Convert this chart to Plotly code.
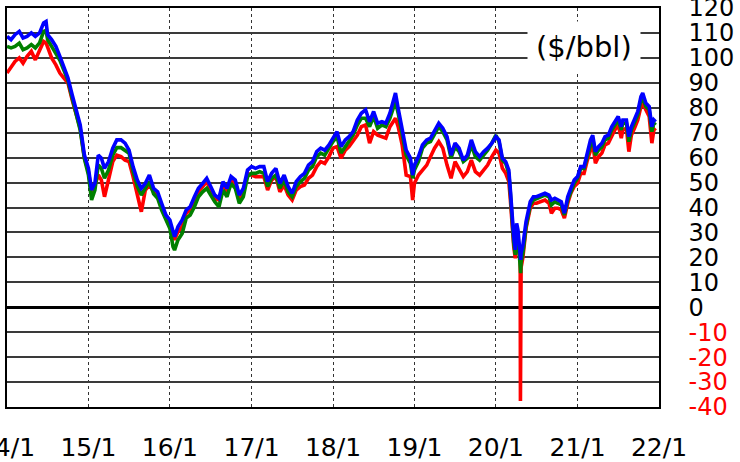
import plotly.graph_objects as go

# ---- data ----
dates = [
    "2014-01-01", "2014-01-19", "2014-02-06", "2014-02-25", "2014-03-14", "2014-04-01", "2014-04-20",
    "2014-05-08", "2014-05-27", "2014-06-14", "2014-06-25", "2014-07-02", "2014-07-20", "2014-08-08",
    "2014-08-26", "2014-09-13", "2014-10-01", "2014-10-20", "2014-11-07", "2014-11-25", "2014-12-14",
    "2015-01-01", "2015-01-15", "2015-01-30", "2015-02-14", "2015-02-28", "2015-03-14", "2015-04-01",
    "2015-04-20", "2015-05-08", "2015-05-27", "2015-06-14", "2015-07-02", "2015-07-20", "2015-08-08",
    "2015-08-26", "2015-09-13", "2015-10-01", "2015-10-20", "2015-11-07", "2015-11-25", "2015-12-14",
    "2016-01-01", "2016-01-15", "2016-01-22", "2016-02-06", "2016-02-25", "2016-03-14", "2016-04-01",
    "2016-04-20", "2016-05-08", "2016-05-27", "2016-06-14", "2016-07-02", "2016-07-20", "2016-08-08",
    "2016-08-26", "2016-09-13", "2016-10-01", "2016-10-20", "2016-11-07", "2016-11-25", "2016-12-14",
    "2017-01-01", "2017-01-19", "2017-02-06", "2017-02-25", "2017-03-14", "2017-04-01", "2017-04-20",
    "2017-05-08", "2017-05-27", "2017-06-14", "2017-07-02", "2017-07-20", "2017-08-08", "2017-08-26",
    "2017-09-13", "2017-10-01", "2017-10-20", "2017-11-07", "2017-11-25", "2017-12-14",
    "2018-01-01", "2018-01-19", "2018-02-06", "2018-02-25", "2018-03-14", "2018-04-01", "2018-04-20",
    "2018-05-08", "2018-05-27", "2018-06-14", "2018-07-02", "2018-07-20", "2018-08-08", "2018-08-26",
    "2018-09-13", "2018-10-01", "2018-10-08", "2018-10-20", "2018-11-07", "2018-11-25", "2018-12-14",
    "2018-12-24",
    "2019-01-01", "2019-01-19", "2019-02-06", "2019-02-25", "2019-03-14", "2019-04-01", "2019-04-20",
    "2019-05-08", "2019-05-27", "2019-06-14", "2019-07-02", "2019-07-20", "2019-08-08", "2019-08-26",
    "2019-09-13", "2019-10-01", "2019-10-20", "2019-11-07", "2019-11-25", "2019-12-14",
    "2020-01-01", "2020-01-15", "2020-01-30", "2020-02-14", "2020-02-28", "2020-03-06", "2020-03-14",
    "2020-03-21", "2020-03-28", "2020-04-03", "2020-04-09", "2020-04-16", "2020-04-19", "2020-04-20",
    "2020-04-21", "2020-04-23", "2020-05-01", "2020-05-15", "2020-06-03", "2020-06-17", "2020-07-01",
    "2020-07-20", "2020-08-08", "2020-08-26", "2020-09-06", "2020-09-21", "2020-10-05", "2020-10-20",
    "2020-11-03", "2020-11-18", "2020-12-02", "2020-12-17",
    "2021-01-01", "2021-01-15", "2021-01-30", "2021-02-14", "2021-02-28", "2021-03-10", "2021-03-22",
    "2021-04-05", "2021-04-20", "2021-05-04", "2021-05-19", "2021-06-03", "2021-06-17", "2021-07-02",
    "2021-07-16", "2021-07-23", "2021-08-08", "2021-08-19", "2021-08-30", "2021-09-13", "2021-09-28",
    "2021-10-12", "2021-10-20", "2021-11-03", "2021-11-18", "2021-11-30", "2021-12-09", "2021-12-17",
]

brent = [
    108.6, 107.3, 109.3, 110.6, 108.0, 108.6, 110.0, 108.6, 110.0, 114.0, 114.6, 109.3, 107.3, 104.6,
    100.6, 95.9, 92.0, 85.2, 79.2, 73.1, 61.0,
    55.7, 47.0, 49.7, 61.0, 59.8, 55.7, 58.4, 63.8, 67.1, 67.1, 65.8, 63.0, 56.4, 51.0,
    47.7, 49.7, 53.0, 47.7, 46.3, 41.7, 37.0,
    35.0, 29.6, 28.3, 32.3, 35.0, 39.0, 40.3, 44.3, 47.7, 49.7, 51.7, 48.4, 45.0, 43.7,
    50.4, 47.7, 52.4, 51.0, 45.0, 47.7, 55.0,
    56.4, 55.7, 56.4, 56.4, 50.4, 53.7, 55.7, 49.7, 53.0, 48.4, 45.7, 50.4, 52.4, 53.7,
    57.0, 58.4, 62.4, 63.8, 63.0, 65.1,
    67.8, 70.4, 64.4, 67.1, 68.4, 70.4, 75.1, 77.8, 79.2, 74.4, 78.5, 73.8, 74.4, 73.8,
    77.8, 83.2, 85.9, 79.8, 71.1, 63.0, 59.8, 53.0,
    57.0, 60.4, 65.1, 67.1, 67.8, 70.4, 73.8, 71.8, 68.4, 61.0, 65.8, 63.8, 59.0, 61.0,
    67.1, 62.4, 60.4, 62.4, 63.8, 65.8,
    68.4, 67.1, 59.8, 58.4, 55.0, 47.0, 35.0, 28.3, 23.0, 33.6, 31.0, 24.3, 22.0, 20.2,
    19.0, 21.7, 24.9, 34.3, 42.3, 44.3, 44.3, 45.0, 45.7, 45.0, 43.0, 43.7, 43.0, 42.3,
    37.7, 44.3, 47.7, 51.0,
    52.4, 56.4, 56.4, 62.4, 67.1, 69.0, 62.4, 64.4, 65.8, 68.4, 69.0, 72.4, 74.4, 76.5,
    72.4, 75.1, 75.1, 68.4, 72.4, 75.1, 78.5, 84.5, 85.9, 81.9, 80.5, 72.4, 75.1, 74.4,
]

dubai = [
    104.6, 104.0, 104.6, 105.9, 103.3, 104.0, 105.3, 104.0, 106.0, 110.6, 111.0, 107.3, 104.6, 101.9,
    99.0, 95.0, 91.0, 83.9, 78.0, 71.1, 59.5,
    53.0, 43.0, 47.0, 57.0, 55.7, 51.7, 55.0, 61.0, 64.0, 64.0, 63.0, 61.8, 54.5, 48.5,
    45.0, 47.5, 50.5, 45.5, 43.7, 39.0, 35.0,
    31.6, 24.3, 22.9, 27.0, 29.6, 35.7, 37.0, 40.3, 44.3, 46.3, 47.7, 45.0, 42.3, 40.3,
    47.0, 44.3, 49.7, 47.7, 41.7, 44.3, 52.4,
    53.7, 53.7, 54.4, 53.7, 48.4, 51.7, 53.0, 47.7, 51.0, 46.3, 44.3, 48.4, 50.4, 51.7,
    55.0, 56.4, 60.4, 61.8, 61.0, 63.8,
    66.4, 68.4, 61.8, 64.4, 66.4, 69.0, 73.1, 75.8, 75.8, 72.4, 76.5, 71.8, 73.1, 72.4,
    75.8, 80.5, 82.5, 77.8, 69.0, 61.0, 57.7, 51.7,
    55.0, 58.4, 63.8, 65.8, 66.4, 69.0, 72.4, 70.4, 67.1, 59.8, 64.4, 62.4, 58.4, 59.8,
    65.1, 60.4, 59.0, 61.0, 63.0, 65.8,
    69.0, 66.4, 59.0, 57.7, 53.7, 45.7, 33.6, 25.6, 21.0, 31.0, 28.3, 21.0, 19.5, 17.6,
    13.7, 18.2, 21.7, 32.3, 41.0, 43.0, 43.7, 44.3, 45.0, 44.3, 41.0, 42.3, 41.7, 41.0,
    37.0, 43.0, 46.3, 49.7,
    51.7, 55.7, 55.7, 61.0, 65.1, 67.8, 61.0, 63.0, 64.4, 67.1, 67.8, 71.1, 73.1, 75.1,
    71.1, 73.8, 73.8, 66.4, 71.1, 73.8, 77.1, 83.2, 83.9, 80.5, 79.2, 70.4, 73.8, 73.1,
]

wti = [
    93.9, 96.5, 98.6, 100.0, 97.9, 100.6, 102.6, 99.2, 102.6, 106.6, 106.0, 104.0, 100.0, 97.2,
    93.9, 91.9, 90.0, 83.2, 77.2, 71.8, 59.8,
    54.4, 46.3, 49.0, 53.0, 51.0, 44.3, 51.7, 58.4, 61.0, 60.4, 59.0, 58.4, 52.4, 44.3,
    38.3, 47.0, 49.0, 46.3, 44.3, 40.3, 35.7,
    33.6, 28.3, 27.0, 30.3, 32.3, 37.7, 39.0, 43.0, 46.3, 48.4, 50.4, 47.0, 43.7, 43.0,
    49.7, 46.3, 51.0, 49.0, 43.0, 45.7, 53.7,
    53.0, 52.4, 52.4, 52.4, 47.0, 51.0, 52.4, 46.3, 49.0, 45.0, 43.0, 47.0, 48.4, 49.0,
    51.7, 53.0, 56.4, 58.4, 57.7, 60.4,
    63.8, 64.4, 59.8, 63.0, 64.4, 66.4, 69.0, 72.4, 73.1, 65.8, 70.4, 69.0, 68.4, 67.8,
    72.4, 75.1, 75.8, 72.4, 65.1, 53.0, 52.4, 43.0,
    49.7, 53.0, 55.0, 57.0, 60.4, 63.8, 66.4, 63.8, 57.0, 51.7, 58.4, 55.7, 52.4, 54.4,
    59.0, 54.4, 53.0, 55.0, 57.0, 60.4,
    63.0, 61.8, 55.7, 53.7, 50.4, 43.0, 32.3, 24.3, 19.6, 29.6, 27.0, 21.7, 18.0, -37.6,
    10.0, 16.0, 20.0, 31.6, 39.7, 41.7, 41.7, 42.3, 43.0, 41.7, 37.7, 39.7, 39.7, 39.0,
    35.7, 41.7, 45.7, 48.4,
    49.7, 53.7, 53.7, 59.0, 63.8, 65.8, 57.7, 60.4, 61.8, 65.1, 65.8, 69.0, 71.1, 73.1,
    67.8, 71.1, 71.8, 62.4, 69.0, 71.8, 75.1, 80.5, 81.9, 79.2, 76.5, 65.8, 71.1, 71.8,
]

x_tick_dates = ["2014-01-01", "2015-01-01", "2016-01-01", "2017-01-01", "2018-01-01",
                "2019-01-01", "2020-01-01", "2021-01-01", "2022-01-01"]
x_tick_labels = ["14/1", "15/1", "16/1", "17/1", "18/1", "19/1", "20/1", "21/1", "22/1"]
y_tick_values = [-40, -30, -20, -10, 0, 10, 20, 30, 40, 50, 60, 70, 80, 90, 100, 110, 120]
unit_label = "($/bbl)"

# ---- figure ----
FONT = "DejaVu Sans"
fig = go.Figure()
for name, vals, color in [("WTI", wti, "#ff0000"), ("Dubai", dubai, "#008000"), ("Brent", brent, "#0000ff")]:
    fig.add_trace(go.Scatter(x=dates, y=vals, mode="lines", name=name,
                             line=dict(color=color, width=3.6)))

y_tick_text = [f"<span style='color:#ff0000'>{v}</span>" if v < 0 else str(v) for v in y_tick_values]

fig.update_layout(
    width=740, height=462,
    margin=dict(l=7, r=81, t=8, b=55),
    paper_bgcolor="white", plot_bgcolor="white",
    showlegend=False,
    font=dict(family=FONT, size=24, color="black"),
    xaxis=dict(
        type="date", automargin=False,
        range=["2014-01-01", "2022-01-01"],
        tickvals=x_tick_dates, ticktext=x_tick_labels,
        showgrid=True, gridcolor="#333333", gridwidth=1, griddash="dot",
        showline=True, linecolor="black", linewidth=1.5, mirror=True,
        ticks="", ticklabelstandoff=17, ticklabeloverflow="allow",
        tickfont=dict(family=FONT, size=25, color="black"),
    ),
    yaxis=dict(
        automargin=False,
        range=[-40, 120], side="right",
        tickvals=y_tick_values, ticktext=y_tick_text,
        showgrid=True, gridcolor="#3a3a3a", gridwidth=1.5,
        zeroline=True, zerolinecolor="black", zerolinewidth=3,
        showline=True, linecolor="black", linewidth=1.5, mirror=True,
        ticks="", ticklabelstandoff=23, ticklabeloverflow="allow",
        tickfont=dict(family=FONT, size=24, color="black"),
    ),
    annotations=[dict(
        text=unit_label, xref="paper", yref="y", x=0.885, y=104.5,
        xanchor="center", yanchor="middle",
        showarrow=False, bgcolor="white", borderpad=8,
        font=dict(family=FONT, size=29, color="black"),
    )],
)

fig.write_html("out.html", config={"displayModeBar": False},
               post_script="document.body.style.margin='0';document.body.style.overflow='hidden';")
